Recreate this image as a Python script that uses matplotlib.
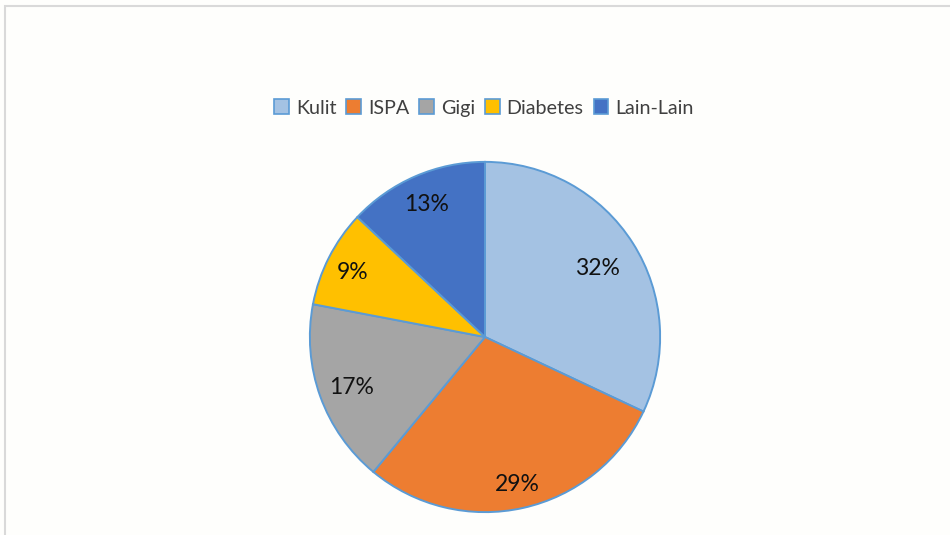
import matplotlib
matplotlib.use("Agg")
import matplotlib.pyplot as plt
import numpy as np
from matplotlib.patches import Rectangle, Patch

categories = ["Kulit", "ISPA", "Gigi", "Diabetes", "Lain-Lain"]
values = [32, 29, 17, 9, 13]
labels = ["32%", "29%", "17%", "9%", "13%"]
colors = ["#A4C2E3", "#ED7D31", "#A5A5A5", "#FFC000", "#4472C4"]
label_dist = [0.76, 0.85, 0.81, 0.85, 0.84]

plt.rcParams['font.family'] = ['Lato', 'DejaVu Sans']

W, H = 950, 535
fig = plt.figure(figsize=(9.5, 5.35), dpi=100)
fig.patch.set_facecolor("#FEFEFC")

# chart frame (left/top edges visible)
fig.add_artist(Rectangle((5 / W, -0.1), 2.0, (H - 6) / H + 0.1, transform=fig.transFigure,
                         fill=False, edgecolor="#D9D9D9", linewidth=1.5))

cx, cy, r = 485, 337, 176
ax = fig.add_axes([(cx - r) / W, (H - cy - r) / H, 2 * r / W, 2 * r / H])

wedges, _ = ax.pie(values, colors=colors, startangle=90, counterclock=False, radius=1,
                   wedgeprops=dict(edgecolor="#5B9BD5", linewidth=1.4))
ax.set_xlim(-1.005, 1.005)
ax.set_ylim(-1.005, 1.005)
ax.set_aspect("equal")
ax.axis("off")

for w, lab, d in zip(wedges, labels, label_dist):
    ang = np.deg2rad((w.theta1 + w.theta2) / 2)
    ax.text(d * np.cos(ang), d * np.sin(ang) - 0.015, lab, ha="center", va="center",
            fontsize=16.5, color="#111111")

handles = [Patch(facecolor=c, edgecolor="#5B9BD5", linewidth=1.2) for c in colors]
fig.legend(handles, categories, loc="center", bbox_to_anchor=(484 / W, 1 - 108 / H),
           ncol=5, frameon=False, fontsize=14.2, handlelength=0.75, handleheight=0.75,
           handletextpad=0.35, columnspacing=0.5, labelcolor="#404040")

fig.savefig("out.png", dpi=100, facecolor=fig.get_facecolor())
